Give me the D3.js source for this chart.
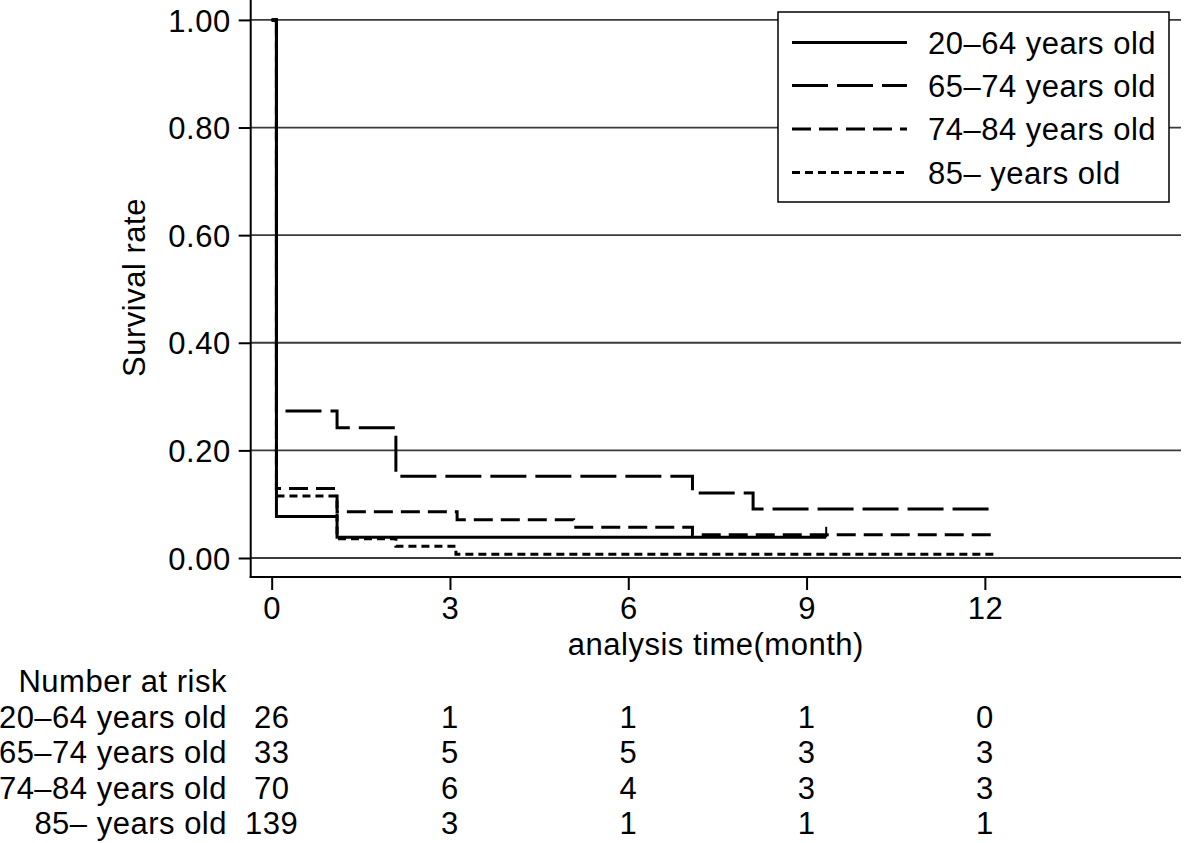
<!DOCTYPE html>
<html>
<head>
<meta charset="utf-8">
<script src="https://cdn.jsdelivr.net/npm/d3@7"></script>
<style>
  html, body { margin: 0; padding: 0; background: #fff; }
  svg { display: block; }
  text { font-family: "Liberation Sans", Arial, Helvetica, sans-serif; fill: #000; letter-spacing: 0.5px; }
</style>
</head>
<body>
<svg id="chart" width="1184" height="843"></svg>
<script>
// ---- data ----
const groups = ["20–64 years old", "65–74 years old", "74–84 years old", "85– years old"];
const t2064 = [0, 0.08, 1.1];
const s2064 = [1, 0.077, 0.0385];
const end2064 = 9.33;
const t6574 = [0, 0.08, 1.1, 2.09, 7.08, 8.1];
const s6574 = [1, 0.273, 0.242, 0.152, 0.121, 0.091];
const end6574 = 12.15;
const t7484 = [0, 0.08, 1.1, 3.12, 5.08, 7.08];
const s7484 = [1, 0.129, 0.086, 0.071, 0.057, 0.043];
const end7484 = 12.15;
const t85 = [0, 0.08, 1.1, 2.09, 3.1];
const s85 = [1, 0.115, 0.036, 0.022, 0.007];
const end85 = 12.15;
const xTicks = [0, 3, 6, 9, 12];
const yTicks = [0, 0.2, 0.4, 0.6, 0.8, 1.0];
const riskTimes = [0, 3, 6, 9, 12];
const risk2064 = [26, 1, 1, 1, 0];
const risk6574 = [33, 5, 5, 3, 3];
const risk7484 = [70, 6, 4, 3, 3];
const risk85 = [139, 3, 1, 1, 1];

// ---- layout ----
const svg = d3.select("#chart");
const FS = 31;
const pLeft = 250.7, pRight = 1181, pTop = 0, pBottom = 577;
const x = d3.scaleLinear().domain([-0.353, 15.3]).range([pLeft, pRight]);
const y = d3.scaleLinear().domain([-0.0353, 1.037]).range([pBottom, pTop]);

// gridlines
svg.append("g").selectAll("line").data(yTicks).join("line")
  .attr("x1", pLeft).attr("x2", pRight)
  .attr("y1", d => y(d)).attr("y2", d => y(d))
  .attr("stroke", "#3a3a3a").attr("stroke-width", 1.8);

// axes
const yAxis = svg.append("g").attr("transform", `translate(${pLeft},0)`)
  .call(d3.axisLeft(y).tickValues(yTicks).tickSize(12).tickPadding(8).tickFormat(d3.format(".2f")));
const xAxis = svg.append("g").attr("transform", `translate(0,${pBottom})`)
  .call(d3.axisBottom(x).tickValues(xTicks).tickSize(13).tickPadding(7).tickFormat(d3.format("d")));
[yAxis, xAxis].forEach(g => {
  g.select(".domain").remove();
  g.selectAll(".tick line").attr("stroke", "#000").attr("stroke-width", 2);
  g.selectAll(".tick text").attr("font-size", FS).attr("font-family", "Liberation Sans, Arial, sans-serif").attr("fill", "#000");
});
yAxis.selectAll(".tick text").attr("dy", "0.36em").attr("x", -20);
xAxis.selectAll(".tick text").attr("dy", "0.72em");
svg.append("line").attr("x1", pLeft).attr("x2", pLeft).attr("y1", pTop).attr("y2", pBottom + 1)
  .attr("stroke", "#000").attr("stroke-width", 2);
svg.append("line").attr("x1", pLeft - 1).attr("x2", pRight).attr("y1", pBottom).attr("y2", pBottom)
  .attr("stroke", "#000").attr("stroke-width", 2);

// axis titles
svg.append("text").attr("transform", `translate(145,${(200 + 375) / 2}) rotate(-90)`)
  .attr("text-anchor", "middle").attr("font-size", FS).text("Survival rate");
svg.append("text").attr("x", (pLeft + pRight) / 2).attr("y", 655)
  .attr("text-anchor", "middle").attr("font-size", FS).text("analysis time(month)");

// curves
const dashes = ["none", "36,9", "19,8", "8,5"];
const curves = [
  { t: t2064, s: s2064, end: end2064 },
  { t: t6574, s: s6574, end: end6574 },
  { t: t7484, s: s7484, end: end7484 },
  { t: t85, s: s85, end: end85 }
];
const line = d3.line().x(d => x(d[0])).y(d => y(d[1])).curve(d3.curveStepAfter);
const order = [3, 2, 1, 0];
order.forEach(i => {
  const c = curves[i];
  const pts = c.t.map((t, j) => [t, c.s[j]]);
  pts.push([c.end, c.s[c.s.length - 1]]);
  svg.append("path").attr("d", line(pts)).attr("fill", "none")
    .attr("stroke", "#000").attr("stroke-width", 3)
    .attr("stroke-dasharray", dashes[i]).attr("stroke-linejoin", "miter");
});
// censor tick at end of first curve
svg.append("line")
  .attr("x1", x(end2064)).attr("x2", x(end2064))
  .attr("y1", y(s2064[s2064.length - 1])).attr("y2", y(0.058))
  .attr("stroke", "#000").attr("stroke-width", 2);

// legend
const lg = svg.append("g");
lg.append("rect").attr("x", 778).attr("y", 12).attr("width", 391).attr("height", 190)
  .attr("fill", "#fff").attr("stroke", "#000").attr("stroke-width", 1.5);
const rowY = [42.5, 85.5, 129, 172.5];
groups.forEach((g, i) => {
  lg.append("line").attr("x1", 792).attr("x2", 907).attr("y1", rowY[i]).attr("y2", rowY[i])
    .attr("stroke", "#000").attr("stroke-width", 2.8).attr("stroke-dasharray", dashes[i]);
  lg.append("text").attr("x", 928).attr("y", rowY[i] + 11).attr("font-size", FS).text(g);
});

// number at risk table
const riskRows = [risk2064, risk6574, risk7484, risk85];
const tblY = [692, 727.5, 763, 798.5, 834];
svg.append("text").attr("x", 227).attr("y", tblY[0]).attr("text-anchor", "end")
  .attr("font-size", FS).text("Number at risk");
riskRows.forEach((row, i) => {
  svg.append("text").attr("x", 227).attr("y", tblY[i + 1]).attr("text-anchor", "end")
    .attr("font-size", FS).text(groups[i]);
  row.forEach((v, j) => {
    svg.append("text").attr("x", x(riskTimes[j])).attr("y", tblY[i + 1])
      .attr("text-anchor", "middle").attr("font-size", FS).text(v);
  });
});
</script>
</body>
</html>
